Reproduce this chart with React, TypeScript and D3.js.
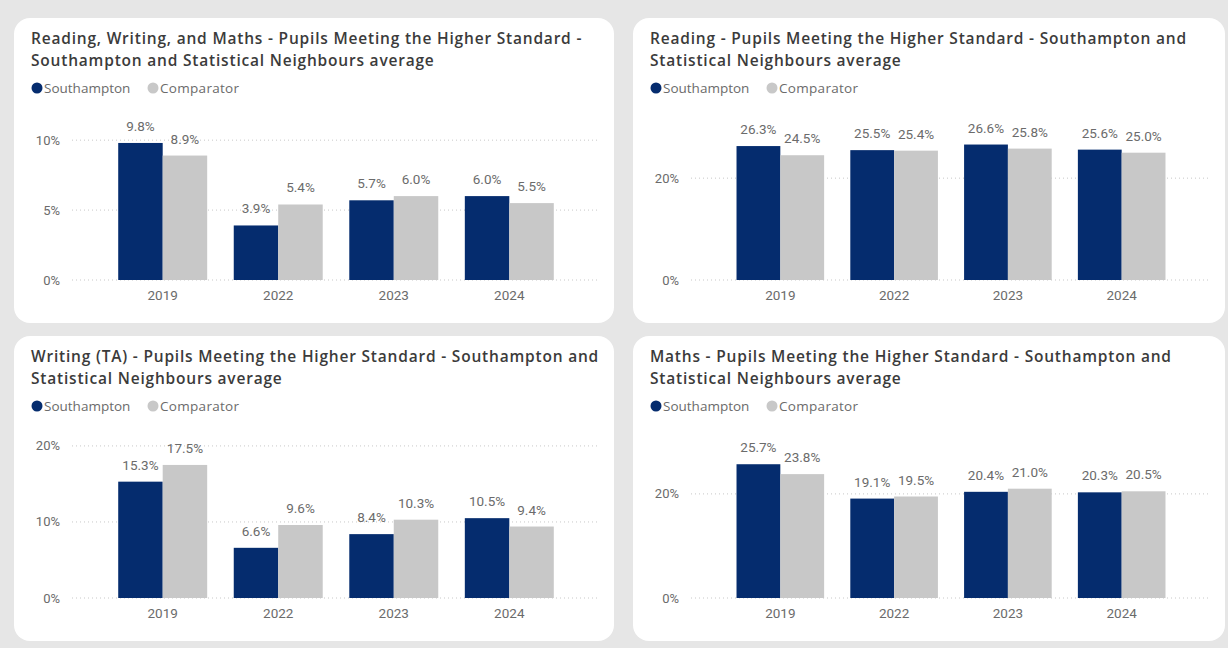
import React from "react";
import * as d3 from "d3";

const years = ["2019", "2022", "2023", "2024"];
const seriesNames = ["Southampton", "Comparator"];
const seriesColors = ["#052c6e", "#c8c8c8"];

const titles = [
  ["Reading, Writing, and Maths - Pupils Meeting the Higher Standard -", "Southampton and Statistical Neighbours average"],
  ["Reading - Pupils Meeting the Higher Standard - Southampton and", "Statistical Neighbours average"],
  ["Writing (TA) - Pupils Meeting the Higher Standard - Southampton and", "Statistical Neighbours average"],
  ["Maths - Pupils Meeting the Higher Standard - Southampton and", "Statistical Neighbours average"],
];

const southampton = [
  [9.8, 3.9, 5.7, 6.0],
  [26.3, 25.5, 26.6, 25.6],
  [15.3, 6.6, 8.4, 10.5],
  [25.7, 19.1, 20.4, 20.3],
];
const comparator = [
  [8.9, 5.4, 6.0, 5.5],
  [24.5, 25.4, 25.8, 25.0],
  [17.5, 9.6, 10.3, 9.4],
  [23.8, 19.5, 21.0, 20.5],
];
const yTicks = [[0, 5, 10], [0, 20], [0, 10, 20], [0, 20]];
const yMax = [11.8, 32.4, 21.7, 31.7];

const W = 1228;
const H = 648;
const font = "Roboto, 'Noto Sans', sans-serif";
const wideFont = "'Open Sans', 'Noto Sans', sans-serif";
const textGray = "#6b6b6b";

// card boxes
const cards = [
  { x: 14, y: 18, w: 600, h: 305 },
  { x: 633, y: 18, w: 592, h: 305 },
  { x: 14, y: 336, w: 600, h: 305 },
  { x: 633, y: 336, w: 592, h: 305 },
];

const Card = ({ i }: { i: number }) => {
  const c = cards[i];
  const left = 58;
  const right = c.w - 14;
  const bottom = 262;
  const top = 97;

  const x0 = d3.scaleBand().domain(years).range([left, right]).paddingInner(0.23).paddingOuter(0.4);
  const x1 = d3.scaleBand().domain(seriesNames).range([0, x0.bandwidth()]);
  const y = d3.scaleLinear().domain([0, yMax[i]]).range([bottom, top]);
  const vals = [southampton[i], comparator[i]];

  return (
    <g transform={`translate(${c.x},${c.y})`}>
      <rect width={c.w} height={c.h} rx={16} fill="#fff" />
      {titles[i].map((t, k) => (
        <text
          key={k}
          x={17}
          y={26 + k * 22}
          fontSize={15.5}
          fontWeight={600}
          letterSpacing={0.8}
          fill="#3b3b3b"
          fontFamily={wideFont}
        >
          {t}
        </text>
      ))}
      {/* legend */}
      <g fontFamily={wideFont} fontSize={13.5} fill={textGray}>
        <circle cx={23} cy={70} r={5.5} fill={seriesColors[0]} />
        <text x={30} y={75}>{seriesNames[0]}</text>
        <circle cx={139} cy={70} r={5.5} fill={seriesColors[1]} />
        <text x={146} y={75} letterSpacing={0.3}>{seriesNames[1]}</text>
      </g>
      {/* grid + y labels */}
      {yTicks[i].map((t) => (
        <g key={t}>
          <line x1={left} x2={right} y1={y(t)} y2={y(t)} stroke="#c8c8c8" strokeDasharray="1,3" />
          <text x={left - 12} y={y(t) + 4.5} textAnchor="end" fontSize={13} fill={textGray} fontFamily={font}>
            {t}%
          </text>
        </g>
      ))}
      {/* bars */}
      {years.map((yr, j) => (
        <g key={yr} transform={`translate(${x0(yr)},0)`}>
          {seriesNames.map((s, k) => (
            <g key={s}>
              <rect
                x={x1(s)}
                y={y(vals[k][j])}
                width={x1.bandwidth()}
                height={bottom - y(vals[k][j])}
                fill={seriesColors[k]}
              />
              <text
                x={(x1(s) as number) + x1.bandwidth() / 2}
                y={y(vals[k][j]) - 12}
                textAnchor="middle"
                fontSize={13.5}
                fill={textGray}
                fontFamily={font}
              >
                {vals[k][j].toFixed(1)}%
              </text>
            </g>
          ))}
          <text
            x={x0.bandwidth() / 2}
            y={bottom + 20}
            textAnchor="middle"
            fontSize={13.5}
            fill={textGray}
            fontFamily={font}
          >
            {yr}
          </text>
        </g>
      ))}
    </g>
  );
};

export default function App() {
  return (
    <svg width={W} height={H} style={{ position: "absolute", left: 0, top: 0, background: "#e6e6e6" }}>
      {cards.map((_, i) => (
        <Card key={i} i={i} />
      ))}
    </svg>
  );
}
